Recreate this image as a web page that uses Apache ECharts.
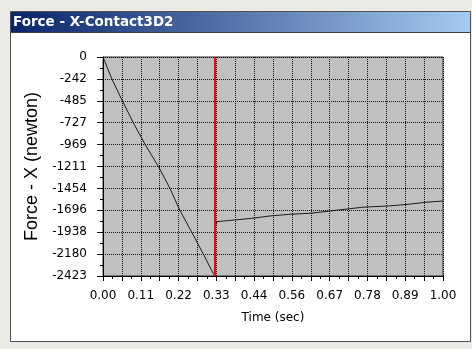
<!DOCTYPE html>
<html lang="en">
<head>
    <meta charset="UTF-8">
    <title>Force - X-Contact3D2</title>
    <script src="https://cdn.jsdelivr.net/npm/echarts@6/dist/echarts.min.js"></script>
    <style>
      body {
        margin: 0;
        background: #ebeae4;
      }
      #main {
        width: 472px;
        height: 349px;
      }
    </style>
</head>
<body>
    <div id="main"></div>
    <script>
      // time (sec) and force (newton)
      const timeSec = [0, 0.026, 0.057, 0.089, 0.124, 0.163, 0.197, 0.226, 0.261, 0.295, 0.324, 0.330,
        0.331, 0.334, 0.354, 0.388, 0.437, 0.491, 0.550, 0.609, 0.668, 0.692, 0.761, 0.839, 0.898, 0.947, 1.0];
      const forceX = [0, -242, -485, -727, -969, -1211, -1454, -1696, -1938, -2180, -2393, -2423,
        -1878, -1822, -1815, -1803, -1785, -1759, -1740, -1729, -1704, -1693, -1663, -1648, -1630, -1608, -1593];
      const markerTime = 0.33;

      const yTickLabels = ["0", "-242", "-485", "-727", "-969", "-1211", "-1454", "-1696", "-1938", "-2180", "-2423"];
      const xTickLabels = ["0.00", "0.11", "0.22", "0.33", "0.44", "0.56", "0.67", "0.78", "0.89", "1.00"];

      const yStep = 242.3;

      var chartDom = document.getElementById("main");
      var myChart = echarts.init(chartDom);
      var option;

      var lineData = timeSec.map(function (t, i) {
        return [t, forceX[i]];
      });

      option = {
        animation: false,
        backgroundColor: "#ebeae4",
        graphic: [
          {
            type: "rect",
            z: -10,
            shape: { x: 10.5, y: 11.5, width: 460, height: 330 },
            style: { fill: "#ffffff", stroke: "#505050", lineWidth: 1 }
          },
          {
            type: "rect",
            z: -9,
            shape: { x: 11, y: 12, width: 459, height: 20 },
            style: {
              fill: new echarts.graphic.LinearGradient(0, 0, 1, 0, [
                { offset: 0, color: "#0a246a" },
                { offset: 1, color: "#a6caf0" }
              ])
            }
          },
          {
            type: "rect",
            z: -9,
            shape: { x: 11, y: 32, width: 459, height: 1 },
            style: { fill: "#404040" }
          },
          {
            type: "text",
            z: -8,
            left: 13,
            top: 15,
            style: {
              text: "Force - X-Contact3D2",
              fill: "#ffffff",
              font: "bold 13.5px 'DejaVu Sans'"
            }
          }
        ],
        grid: {
          left: 103,
          right: 29,
          top: 57,
          bottom: 73,
          show: true,
          backgroundColor: "#c0c0c0",
          borderColor: "#303030",
          borderWidth: 1
        },
        xAxis: {
          type: "value",
          min: 0,
          max: 1,
          interval: 1 / 18,
          name: "Time (sec)",
          nameLocation: "middle",
          nameGap: 36,
          nameTextStyle: { color: "#000", fontSize: 12, fontFamily: "DejaVu Sans" },
          axisLine: { onZero: false, lineStyle: { color: "#000", width: 1 } },
          axisTick: { length: 5, lineStyle: { color: "#000" } },
          minorTick: { show: true, splitNumber: 2, length: 3, lineStyle: { color: "#000" } },
          axisLabel: {
            margin: 14,
            color: "#000",
            fontSize: 12,
            fontFamily: "DejaVu Sans",
            showMinLabel: true,
            showMaxLabel: true,
            formatter: function (value) {
              var k = value * 9;
              var r = Math.round(k);
              if (Math.abs(k - r) < 1e-6) {
                return xTickLabels[r];
              }
              return "";
            }
          },
          splitLine: { show: true, lineStyle: { color: "#111", type: [1, 1], width: 1 } }
        },
        yAxis: {
          type: "value",
          min: -2423,
          max: 0,
          interval: yStep,
          name: "Force - X (newton)",
          nameLocation: "middle",
          nameGap: 56,
          nameTextStyle: { color: "#000", fontSize: 18, fontFamily: "'Liberation Sans', Arial, sans-serif" },
          axisLine: { lineStyle: { color: "#000", width: 1 } },
          axisTick: { length: 6, lineStyle: { color: "#000" } },
          minorTick: { show: true, splitNumber: 2, length: 3, lineStyle: { color: "#000" } },
          axisLabel: {
            margin: 16,
            color: "#000",
            fontSize: 12,
            fontFamily: "DejaVu Sans",
            formatter: function (value) {
              var idx = Math.round(-value / yStep);
              return yTickLabels[idx];
            }
          },
          splitLine: { show: true, lineStyle: { color: "#111", type: [1, 1], width: 1 } }
        },
        series: [
          {
            type: "line",
            data: lineData,
            showSymbol: false,
            lineStyle: { color: "#1a1a1a", width: 1 },
            markLine: {
              silent: true,
              symbol: "none",
              label: { show: false },
              lineStyle: { color: "#ff0000", width: 2, type: "solid" },
              data: [{ xAxis: markerTime }]
            }
          }
        ]
      };
      option && myChart.setOption(option);
    </script>
</body>
</html>
